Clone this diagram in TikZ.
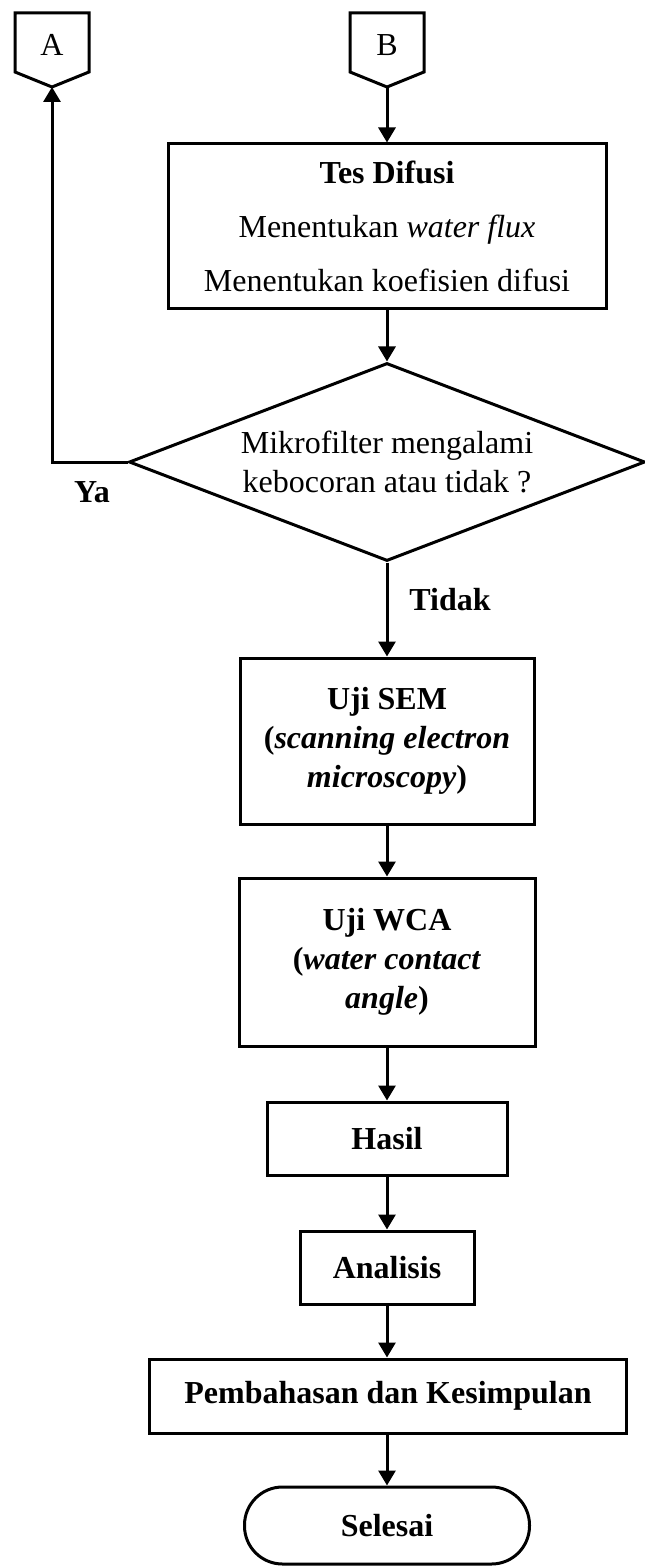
\documentclass[tikz,border=0pt]{standalone}
\usepackage{fontspec}
\setmainfont{Liberation Serif}
\usetikzlibrary{shapes.geometric,arrows.meta}
\begin{document}
\begin{tikzpicture}[x=0.5pt,y=-0.5pt,
  every node/.style={font=\fontsize{16}{19.5}\selectfont},
  bf/.style={font=\fontsize{16}{19.5}\selectfont\bfseries},
  outline/.style={draw, line width=1.5pt},
  box/.style={outline, rectangle, inner sep=0pt, align=center},
  decision/.style={outline, diamond, aspect=2.6, inner sep=1pt, align=center},
  terminal/.style={outline, rectangle, rounded corners=19pt, inner sep=0pt},
  arr/.style={line width=1.5pt, -{Triangle[length=7.5pt,width=8.5pt]}}
]
\useasboundingbox (0,0) rectangle (644,1567);

% off-page connectors
\node (A) at (52,45) {A};
\coordinate (Atip) at (52,87);
\draw[outline, line join=miter] (15,13) -- (89,13) -- (89,72) -- (Atip) -- (15,72) -- cycle;

\node (B) at (387,45) {B};
\coordinate (Btip) at (387,87);
\draw[outline, line join=miter] (350,13) -- (424,13) -- (424,72) -- (Btip) -- (350,72) -- cycle;

% process steps
\node[box, minimum width=219pt, minimum height=82.5pt,
      font=\fontsize{16}{27}\selectfont] (tes) at (387,226.5)
  {\textbf{Tes Difusi}\\Menentukan \textit{water flux}\\Menentukan koefisien difusi};

\node[decision, minimum width=258pt, minimum height=99pt] (cek) at (387,462)
  {Mikrofilter mengalami\\kebocoran atau tidak ?};

\node[box, bf, minimum width=147pt, minimum height=83pt] (sem) at (387,741)
  {Uji SEM\\(\textit{scanning electron}\\\textit{microscopy})};

\node[box, bf, minimum width=148pt, minimum height=84pt] (wca) at (387,962)
  {Uji WCA\\(\textit{water contact}\\\textit{angle})};

\node[box, bf, minimum width=120pt, minimum height=36.5pt] (hasil) at (387,1138.5) {Hasil};

\node[box, bf, minimum width=87pt, minimum height=36.5pt] (analisis) at (387,1267.5) {Analisis};

\node[box, bf, minimum width=238.5pt, minimum height=37pt] (bahas) at (388,1396)
  {Pembahasan dan Kesimpulan};

\node[terminal, bf, minimum width=142.5pt, minimum height=38.5pt] (selesai) at (387,1525.5) {Selesai};

% branch labels
\node[bf] (ya) at (92,492) {Ya};
\node[bf] (tidak) at (450,600) {Tidak};

% connectors
\draw[arr] (Btip) -- (tes.north);
\draw[arr] (tes.south) -- (cek.north);
\draw[arr] (cek.west) -| (Atip);
\draw[arr] (cek.south) -- (sem.north);
\draw[arr] (sem.south) -- (wca.north);
\draw[arr] (wca.south) -- (hasil.north);
\draw[arr] (hasil.south) -- (analisis.north);
\draw[arr] (analisis.south) -- (bahas.north -| analisis.south);
\draw[arr] (bahas.south -| analisis.south) -- (selesai.north);
\end{tikzpicture}
\end{document}
